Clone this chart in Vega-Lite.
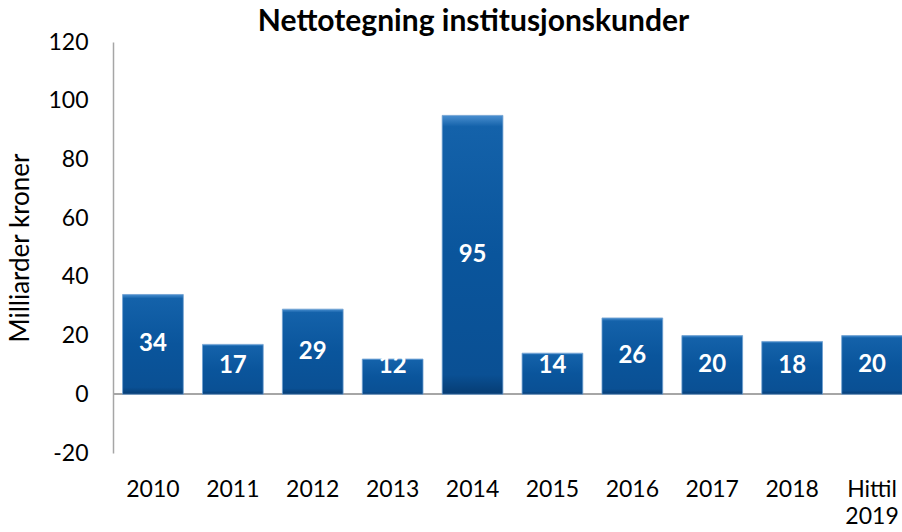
{
  "$schema": "https://vega.github.io/schema/vega-lite/v6.json",
  "autosize": {"type": "none"},
  "padding": {"left": 113, "top": 42, "right": 0, "bottom": 79},
  "width": 799,
  "height": 411,
  "background": "white",
  "title": {
    "text": "Nettotegning institusjonskunder",
    "font": "Lato",
    "fontSize": 30,
    "fontWeight": "bold",
    "color": "#000000",
    "anchor": "middle",
    "dx": -39,
    "baseline": "alphabetic",
    "offset": -30
  },
  "data": {
    "values": [
      {"year": "2010", "value": 34},
      {"year": "2011", "value": 17},
      {"year": "2012", "value": 29},
      {"year": "2013", "value": 12},
      {"year": "2014", "value": 95},
      {"year": "2015", "value": 14},
      {"year": "2016", "value": 26},
      {"year": "2017", "value": 20},
      {"year": "2018", "value": 18},
      {"year": "Hittil\n2019", "value": 20}
    ]
  },
  "encoding": {
    "x": {
      "field": "year",
      "type": "nominal",
      "sort": null,
      "scale": {"paddingInner": 0.24, "paddingOuter": 0.12},
      "axis": {
        "title": null,
        "labelAngle": 0,
        "labelExpr": "split(datum.label, '\\n')",
        "labelFont": "Lato",
        "labelFontSize": 23,
        "labelColor": "#000000",
        "labelPadding": 25,
        "labelLineHeight": 27,
        "labelBaseline": "top",
        "domain": false,
        "ticks": false
      }
    }
  },
  "layer": [
    {
      "mark": {"type": "rule", "color": "#a6a6a6", "strokeWidth": 1.5},
      "encoding": {"y": {"datum": 0, "type": "quantitative", "scale": {"domain": [-20, 120]}}, "x": null}
    },
    {
      "mark": {
        "type": "bar",
        "color": {
          "gradient": "linear",
          "x1": 0, "y1": 0, "x2": 0, "y2": 1,
          "stops": [
            {"offset": 0, "color": "#4a8fd0"},
            {"offset": 0.04, "color": "#1462aa"},
            {"offset": 0.5, "color": "#0a559c"},
            {"offset": 0.93, "color": "#0a5094"},
            {"offset": 1, "color": "#063c73"}
          ]
        },
        "stroke": "#6f9fd0",
        "strokeWidth": 0.8
      },
      "encoding": {
        "y": {
          "field": "value",
          "type": "quantitative",
          "scale": {"domain": [-20, 120], "nice": false, "zero": true},
          "axis": {
            "values": [-20, 0, 20, 40, 60, 80, 100, 120],
            "labelExpr": "datum.value < 0 ? '-' + abs(datum.value) : datum.label",
            "title": "Milliarder kroner",
            "titleFont": "Lato",
            "titleFontSize": 26,
            "titleFontWeight": "normal",
            "titleColor": "#000000",
            "titlePadding": 14,
            "labelFont": "Lato",
            "labelFontSize": 23,
            "labelColor": "#000000",
            "labelPadding": 25,
            "ticks": false,
            "grid": false,
            "domainColor": "#a6a6a6",
            "domainWidth": 1.5
          }
        }
      }
    },
    {
      "transform": [{"calculate": "max(datum.value / 2, 9.6)", "as": "labelPos"}],
      "mark": {
        "type": "text",
        "font": "Lato",
        "fontSize": 24,
        "fontWeight": "bold",
        "color": "#ffffff",
        "baseline": "middle",
        "align": "center"
      },
      "encoding": {
        "y": {"field": "labelPos", "type": "quantitative"},
        "text": {"field": "value", "type": "quantitative"}
      }
    }
  ],
  "config": {
    "view": {"stroke": null}
  }
}
